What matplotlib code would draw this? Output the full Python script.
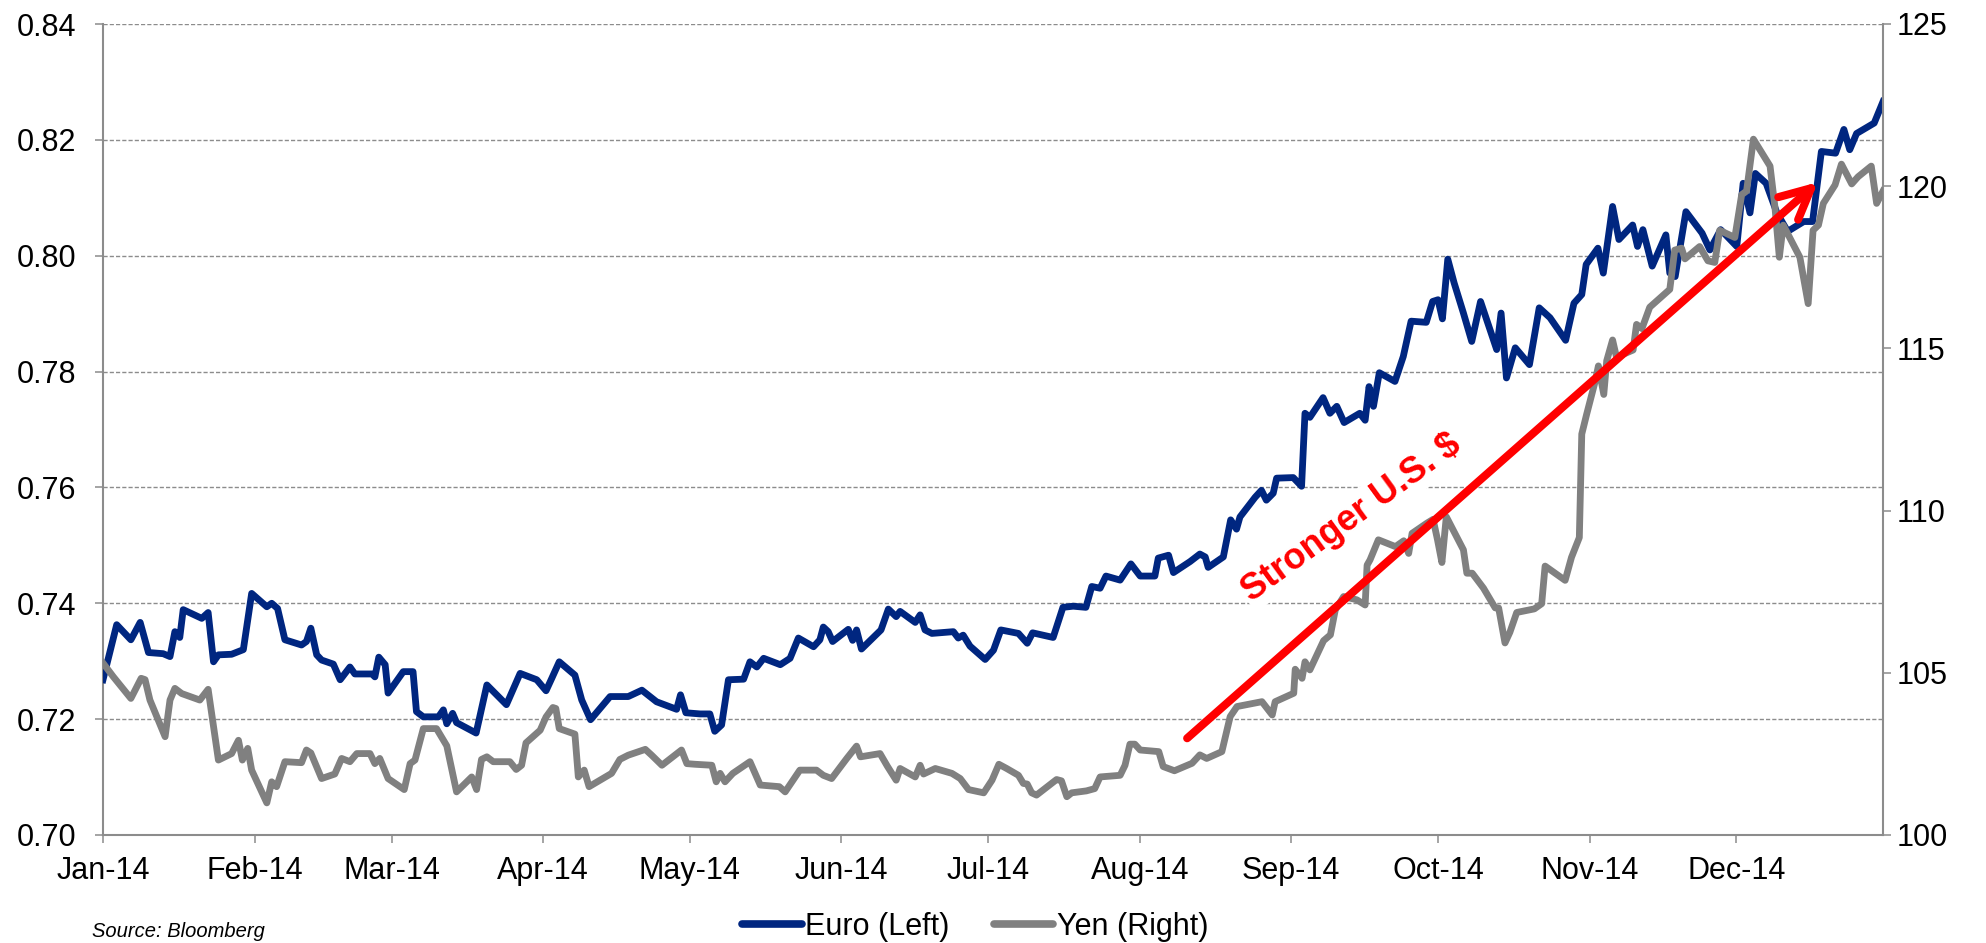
import numpy as np
import matplotlib
matplotlib.use('Agg')
import matplotlib.pyplot as plt
import matplotlib.dates as mdates
from matplotlib.ticker import FormatStrFormatter

plt.rcParams['font.family'] = ['Liberation Sans', 'DejaVu Sans']

# days counted from 1 Jan 2014
start = np.datetime64('2014-01-01T00:00')

euro_day = [0, 2.8, 5.7, 7.6, 9.3, 12.3, 13.7, 14.7, 15.7, 16.4, 20.2, 21.5, 22.6, 23.6, 26.3, 28.7,
            30.4, 33.5, 34.5, 35.7, 37.2, 40.6, 41.6, 42.5, 43.7, 44.7, 47.1, 48.5, 50.5, 51.5, 55.0,
            55.6, 56.4, 57.7, 58.3, 61.4, 63.4, 64.1, 65.5, 68.6, 69.6, 70.3, 71.5, 72.3, 76.3, 78.5,
            82.5, 85.3, 88.7, 90.6, 91.8, 93.3, 96.5, 97.9, 99.7, 103.7, 107.4, 110.2, 113.2, 117.3,
            118.1, 119.2, 122.1, 124.1, 125.1, 126.5, 127.9, 131.0, 132.3, 133.7, 135.1, 138.5, 140.5,
            142.2, 145.3, 146.6, 147.3, 148.3, 149.2, 152.4, 153.3, 154.1, 155.1, 159.1, 160.6, 162.2,
            163.0, 166.1, 167.1, 168.1, 169.5, 173.9, 174.9, 175.9, 177.3, 180.4, 182.1, 183.6, 187.2,
            189.0, 190.1, 194.3, 196.3, 198.4, 201.0, 202.2, 203.9, 205.1, 208.0, 210.2, 212.1, 215.1,
            215.8, 217.9, 218.9, 222.3, 224.3, 225.4, 226.0, 229.1, 230.6, 231.8, 232.5, 235.6, 236.9,
            237.9, 239.3, 240.0, 243.4, 245.1, 245.8, 246.8, 249.5, 250.9, 252.3, 253.8, 257.0, 258.1,
            258.9, 259.8, 261.0, 264.2, 265.9, 267.5, 270.6, 271.9, 273.0, 273.9, 275.0, 276.3, 278.2,
            279.9, 281.7, 285.0, 285.9, 287.0, 288.8, 291.7, 293.7, 295.9, 299.1, 300.8, 302.4, 303.3,
            305.7, 306.8, 308.7, 310.0, 312.8, 313.8, 314.9, 316.8, 319.6, 320.4, 321.5, 323.7, 327.0,
            328.6, 330.8, 334.1, 335.4, 336.8, 337.9, 340.1, 342.3, 344.5, 347.8, 349.6, 351.4, 354.3,
            356.0, 357.2, 358.6, 362.2, 364.0]
euro_val = [0.7268, 0.7363, 0.7337, 0.7367, 0.7315, 0.7313, 0.7308, 0.7351, 0.7341, 0.7389, 0.7374,
            0.7384, 0.7299, 0.7311, 0.7312, 0.7320, 0.7417, 0.7394, 0.7400, 0.7391, 0.7337, 0.7328,
            0.7334, 0.7357, 0.7311, 0.7302, 0.7295, 0.7268, 0.7290, 0.7278, 0.7278, 0.7273, 0.7307,
            0.7294, 0.7245, 0.7282, 0.7282, 0.7213, 0.7204, 0.7204, 0.7216, 0.7192, 0.7210, 0.7194,
            0.7176, 0.7259, 0.7225, 0.7279, 0.7268, 0.7249, 0.7271, 0.7299, 0.7276, 0.7233, 0.7199,
            0.7239, 0.7239, 0.7250, 0.7230, 0.7217, 0.7242, 0.7211, 0.7209, 0.7209, 0.7179, 0.7190,
            0.7268, 0.7269, 0.7299, 0.7290, 0.7305, 0.7294, 0.7305, 0.7340, 0.7325, 0.7337, 0.7359,
            0.7351, 0.7334, 0.7355, 0.7336, 0.7354, 0.7321, 0.7354, 0.7390, 0.7377, 0.7386, 0.7367,
            0.7380, 0.7354, 0.7348, 0.7351, 0.7340, 0.7345, 0.7326, 0.7303, 0.7319, 0.7354, 0.7348,
            0.7331, 0.7349, 0.7341, 0.7393, 0.7395, 0.7393, 0.7429, 0.7426, 0.7447, 0.7440, 0.7468,
            0.7447, 0.7447, 0.7478, 0.7483, 0.7453, 0.7472, 0.7485, 0.7480, 0.7462, 0.7480, 0.7544,
            0.7528, 0.7549, 0.7583, 0.7595, 0.7578, 0.7590, 0.7616, 0.7617, 0.7602, 0.7728, 0.7721,
            0.7755, 0.7728, 0.7740, 0.7712, 0.7728, 0.7716, 0.7774, 0.7740, 0.7798, 0.7783, 0.7826,
            0.7887, 0.7885, 0.7921, 0.7924, 0.7891, 0.7994, 0.7953, 0.7901, 0.7852, 0.7921, 0.7838,
            0.7901, 0.7789, 0.7841, 0.7812, 0.7910, 0.7893, 0.7854, 0.7918, 0.7933, 0.7985, 0.8013,
            0.7970, 0.8085, 0.8028, 0.8053, 0.8016, 0.8045, 0.7982, 0.8036, 0.7970, 0.7964, 0.8076,
            0.8039, 0.8010, 0.8045, 0.8016, 0.8125, 0.8074, 0.8142, 0.8125, 0.8074, 0.8042, 0.8059,
            0.8059, 0.8180, 0.8177, 0.8218, 0.8183, 0.8211, 0.8229, 0.8266]

yen_day = [0, 2.1, 5.7, 7.8, 8.6, 9.6, 12.7, 13.7, 14.7, 16.1, 19.8, 21.5, 23.6, 26.3, 27.7, 28.5,
           29.6, 30.4, 33.5, 34.5, 35.5, 37.2, 40.6, 41.6, 42.5, 44.7, 47.4, 48.8, 50.5, 51.9, 54.6,
           55.6, 56.6, 58.3, 61.6, 62.8, 63.8, 65.5, 68.2, 70.3, 72.3, 75.4, 76.4, 77.4, 78.5, 79.8,
           83.2, 84.5, 85.6, 86.5, 89.4, 90.6, 92.0, 92.6, 93.3, 96.5, 97.2, 98.4, 99.4, 104.0, 105.7,
           107.4, 110.9, 112.2, 114.3, 118.3, 119.4, 121.1, 124.5, 125.4, 126.2, 127.2, 128.8, 132.3,
           134.4, 138.3, 139.5, 142.5, 145.9, 147.3, 149.0, 152.1, 154.1, 154.9, 158.9, 160.4, 162.2,
           163.0, 166.1, 167.1, 167.8, 170.2, 173.6, 175.3, 177.0, 180.1, 181.8, 183.2, 184.8, 187.2,
           188.2, 189.0, 189.9, 190.9, 195.0, 196.0, 197.1, 198.1, 201.1, 202.8, 203.9, 208.0, 209.0,
           210.0, 211.0, 212.1, 215.9, 216.8, 219.1, 222.7, 224.3, 225.7, 228.8, 230.5, 231.9, 237.0,
           239.1, 239.7, 243.5, 243.8, 245.2, 245.8, 246.8, 249.6, 251.0, 252.0, 253.7, 256.4, 258.1,
           258.5, 259.1, 260.8, 264.3, 266.0, 267.0, 267.7, 270.7, 272.0, 272.9, 273.8, 274.7, 278.2,
           278.9, 280.0, 282.3, 284.7, 285.4, 286.7, 287.7, 289.1, 292.7, 294.2, 294.9, 299.0, 300.3,
           301.9, 302.4, 303.4, 305.1, 305.8, 306.9, 307.5, 308.7, 309.5, 312.9, 313.6, 314.7, 316.3,
           320.4, 321.4, 322.8, 323.5, 326.5, 328.2, 329.6, 330.6, 333.7, 335.1, 336.1, 337.5, 340.9,
           341.9, 342.8, 343.6, 347.0, 348.7, 349.7, 350.8, 351.8, 354.2, 355.5, 357.6, 358.9, 361.6,
           362.7, 364.0]
yen_val = [105.3, 104.88, 104.21, 104.83, 104.79, 104.16, 103.03, 104.16, 104.52, 104.36, 104.16,
           104.49, 102.31, 102.51, 102.92, 102.31, 102.67, 102.00, 100.99, 101.64, 101.49, 102.26,
           102.23, 102.62, 102.53, 101.74, 101.88, 102.36, 102.26, 102.51, 102.51, 102.20, 102.36,
           101.74, 101.40, 102.20, 102.31, 103.28, 103.28, 102.75, 101.33, 101.79, 101.40, 102.33,
           102.41, 102.26, 102.26, 102.02, 102.15, 102.84, 103.23, 103.64, 103.93, 103.90, 103.28,
           103.11, 101.79, 102.00, 101.49, 101.90, 102.33, 102.46, 102.64, 102.46, 102.15, 102.62,
           102.20, 102.18, 102.15, 101.64, 101.90, 101.64, 101.90, 102.26, 101.54, 101.49, 101.33,
           102.00, 102.00, 101.84, 101.74, 102.36, 102.74, 102.41, 102.51, 102.12, 101.69, 102.05,
           101.79, 102.15, 101.88, 102.05, 101.90, 101.74, 101.40, 101.30, 101.69, 102.18, 102.05,
           101.84, 101.59, 101.57, 101.30, 101.23, 101.71, 101.67, 101.18, 101.30, 101.36, 101.43,
           101.79, 101.84, 102.15, 102.80, 102.80, 102.62, 102.57, 102.11, 101.98, 102.21, 102.47,
           102.36, 102.57, 103.65, 103.96, 104.11, 103.70, 104.11, 104.37, 105.11, 104.83, 105.34,
           105.09, 105.99, 106.17, 106.94, 107.35, 107.25, 107.09, 108.32, 108.48, 109.10, 108.89,
           109.07, 108.68, 109.30, 109.61, 109.73, 109.10, 108.40, 109.81, 108.79, 108.07, 108.07,
           107.61, 107.00, 107.00, 105.92, 106.25, 106.86, 106.97, 107.13, 108.29, 107.85, 108.56,
           109.17, 112.36, 112.97, 113.96, 114.46, 113.58, 114.62, 115.26, 114.73, 114.95, 115.74,
           115.61, 116.27, 116.82, 118.03, 118.09, 117.76, 118.14, 117.70, 117.65, 118.64, 118.42,
           119.74, 119.85, 121.45, 120.62, 119.36, 117.81, 118.80, 117.81, 116.38, 118.64, 118.80,
           119.47, 120.04, 120.68, 120.07, 120.29, 120.62, 119.47, 119.85]

euro_ticks = [0.70, 0.72, 0.74, 0.76, 0.78, 0.80, 0.82, 0.84]
yen_ticks = [100, 105, 110, 115, 120, 125]
month_ticks = ['2014-01-01', '2014-02-01', '2014-03-01', '2014-04-01', '2014-05-01', '2014-06-01',
               '2014-07-01', '2014-08-01', '2014-09-01', '2014-10-01', '2014-11-01', '2014-12-01']

# trend arrow (day, euro value) and its label
arrow_from = (221.7, 0.7167)
arrow_to = (350.7, 0.8127)
label_at = (255.4, 0.7548)

EURO_COL = '#002680'
YEN_COL = '#808080'
AX_COL = '#8c8c8c'


def to_num(days):
    d = start + (np.asarray(days, dtype=float) * 1440).round().astype('timedelta64[m]')
    return mdates.date2num(d)


fig = plt.figure(figsize=(19.86, 9.43), dpi=100)
ax = fig.add_axes([103 / 1986, 1 - 835 / 943, 1780 / 1986, 811 / 943])
ax2 = ax.twinx()

l1, = ax.plot(to_num(euro_day), euro_val, color=EURO_COL, lw=4.9,
              solid_joinstyle='round', label='Euro (Left)', zorder=3)
l2, = ax2.plot(to_num(yen_day), yen_val, color=YEN_COL, lw=4.9,
               solid_joinstyle='round', label='Yen (Right)', zorder=3)

ax.set_xlim(to_num([0])[0], mdates.date2num(np.datetime64('2014-12-31')))
ax.set_ylim(0.70, 0.84)
ax2.set_ylim(100, 125)

ax.set_yticks(euro_ticks)
ax.yaxis.set_major_formatter(FormatStrFormatter('%.2f'))
ax2.set_yticks(yen_ticks)
ax.set_xticks(mdates.date2num(np.array(month_ticks, dtype='datetime64[D]')))
ax.xaxis.set_major_formatter(mdates.DateFormatter('%b-%y'))

ax.set_axisbelow(True)
ax.yaxis.grid(True, color=AX_COL, linestyle=(0, (3, 1.5)), linewidth=1.0)

for s in ['top', 'right']:
    ax.spines[s].set_visible(False)
for s in ['top', 'left', 'bottom']:
    ax2.spines[s].set_visible(False)
for sp in [ax.spines['left'], ax.spines['bottom'], ax2.spines['right']]:
    sp.set_color(AX_COL)
    sp.set_linewidth(1.5)

ax.tick_params(axis='y', length=6, width=1.1, color=AX_COL, pad=13, labelsize=22)
ax.tick_params(axis='x', length=6, width=1.1, color=AX_COL, pad=9, labelsize=22)
ax2.tick_params(axis='y', length=6, width=1.1, color=AX_COL, pad=4, labelsize=22)

ax.text(to_num([label_at[0]])[0], label_at[1], 'Stronger U.S. $', rotation=36,
        rotation_mode='anchor', ha='center', va='center', color='red', fontsize=26,
        fontweight='bold', bbox=dict(facecolor='white', edgecolor='none', pad=2), zorder=2)

ax2.annotate('', xy=(to_num([arrow_to[0]])[0], arrow_to[1]),
             xytext=(to_num([arrow_from[0]])[0], arrow_from[1]),
             xycoords=ax.transData, textcoords=ax.transData,
             arrowprops=dict(arrowstyle='->,head_length=0.55,head_width=0.27', color='red',
                             lw=5.8, shrinkA=0, shrinkB=0, mutation_scale=40),
             zorder=5)

leg = fig.legend(handles=[l1, l2], loc='center', bbox_to_anchor=(975 / 1986, 1 - 927 / 943),
                 ncol=2, frameon=False, fontsize=22, handlelength=1.96, handletextpad=0.1,
                 columnspacing=1.45, borderpad=0, borderaxespad=0)
for ln in leg.get_lines():
    ln.set_linewidth(5.5)
    ln.set_solid_capstyle('round')

fig.text(92 / 1986, 1 - 922 / 943, 'Source: Bloomberg', fontsize=14.5, style='italic',
         ha='left', va='top')

fig.savefig('out.png', dpi=100)
